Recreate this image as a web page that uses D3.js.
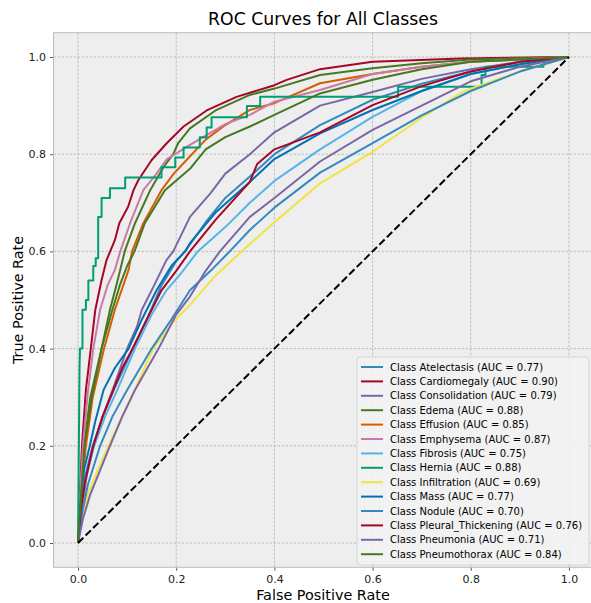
<!DOCTYPE html>
<html><head><meta charset="utf-8">
<script src="https://cdn.jsdelivr.net/npm/d3@7"></script>
<style>body{margin:0;background:#fff}svg{display:block}</style>
</head><body><svg id="c" width="591" height="603"></svg>
<script>
const classNames = ["Atelectasis","Cardiomegaly","Consolidation","Edema","Effusion","Emphysema","Fibrosis","Hernia","Infiltration","Mass","Nodule","Pleural_Thickening","Pneumonia","Pneumothorax"];
const aucValues = [0.77,0.90,0.79,0.88,0.85,0.87,0.75,0.88,0.69,0.77,0.70,0.76,0.71,0.84];
const lineColors = ["#348ABD","#A60628","#7A68A6","#467821","#D55E00","#CC79A7","#56B4E9","#009E73","#F0E442","#0072B2","#348ABD","#A60628","#7A68A6","#467821"];
const xTicks = [0.0,0.2,0.4,0.6,0.8,1.0];
const yTicks = [0.0,0.2,0.4,0.6,0.8,1.0];

// ROC points [fpr, tpr]
const rocAtelectasis = [[0,0],[0.006,0.07],[0.015,0.14],[0.03,0.2],[0.05,0.26],[0.075,0.32],[0.112,0.4],[0.14,0.46],[0.17,0.53],[0.2,0.58],[0.218,0.6],[0.26,0.66],[0.3,0.71],[0.35,0.754],[0.4,0.8],[0.493,0.86],[0.6,0.912],[0.7,0.945],[0.8,0.97],[0.9,0.99],[1,1]];
const rocCardiomegaly = [[0,0],[0.003,0.08],[0.008,0.2],[0.016,0.315],[0.026,0.4],[0.035,0.479],[0.048,0.541],[0.058,0.582],[0.075,0.623],[0.084,0.658],[0.102,0.692],[0.113,0.726],[0.123,0.747],[0.15,0.788],[0.181,0.823],[0.215,0.857],[0.262,0.89],[0.323,0.918],[0.4,0.942],[0.425,0.953],[0.493,0.975],[0.6,0.99],[0.78,0.997],[1,1]];
const rocConsolidation = [[0,0],[0.008,0.07],[0.018,0.14],[0.032,0.2],[0.05,0.26],[0.072,0.32],[0.1,0.4],[0.12,0.445],[0.13,0.48],[0.155,0.53],[0.18,0.582],[0.194,0.6],[0.228,0.671],[0.27,0.72],[0.3,0.76],[0.35,0.8],[0.4,0.845],[0.493,0.9],[0.6,0.928],[0.7,0.955],[0.8,0.975],[0.9,0.99],[1,1]];
const rocEdema = [[0,0],[0.004,0.08],[0.012,0.2],[0.025,0.3],[0.048,0.4],[0.065,0.48],[0.078,0.53],[0.086,0.562],[0.095,0.6],[0.116,0.658],[0.147,0.726],[0.175,0.775],[0.194,0.8],[0.204,0.823],[0.228,0.853],[0.28,0.89],[0.35,0.922],[0.4,0.935],[0.493,0.963],[0.6,0.977],[0.7,0.987],[0.8,0.995],[1,1]];
const rocEffusion = [[0,0],[0.005,0.08],[0.016,0.2],[0.03,0.3],[0.053,0.4],[0.075,0.48],[0.092,0.53],[0.103,0.562],[0.11,0.6],[0.133,0.658],[0.17,0.726],[0.195,0.76],[0.221,0.788],[0.26,0.83],[0.3,0.86],[0.35,0.891],[0.4,0.905],[0.493,0.946],[0.6,0.965],[0.7,0.98],[0.8,0.99],[1,1]];
const rocEmphysema = [[0,0],[0.003,0.08],[0.01,0.2],[0.02,0.31],[0.031,0.4],[0.045,0.48],[0.06,0.53],[0.075,0.562],[0.086,0.6],[0.106,0.658],[0.133,0.726],[0.16,0.76],[0.181,0.79],[0.228,0.819],[0.3,0.862],[0.35,0.881],[0.4,0.908],[0.493,0.932],[0.6,0.965],[0.7,0.98],[0.8,0.99],[1,1]];
const rocFibrosis = [[0,0],[0.007,0.07],[0.017,0.14],[0.033,0.2],[0.055,0.26],[0.08,0.315],[0.116,0.4],[0.15,0.47],[0.18,0.52],[0.21,0.555],[0.228,0.579],[0.244,0.6],[0.3,0.65],[0.35,0.7],[0.4,0.745],[0.493,0.81],[0.6,0.877],[0.7,0.93],[0.8,0.965],[0.9,0.985],[1,1]];
const rocHernia = [[0,0],[0.003,0.36],[0.004,0.4],[0.009,0.4],[0.009,0.48],[0.016,0.48],[0.016,0.5],[0.021,0.5],[0.021,0.54],[0.031,0.54],[0.031,0.57],[0.036,0.57],[0.036,0.586],[0.041,0.586],[0.041,0.671],[0.048,0.671],[0.048,0.71],[0.065,0.71],[0.065,0.73],[0.096,0.73],[0.096,0.752],[0.17,0.752],[0.17,0.773],[0.198,0.773],[0.198,0.793],[0.215,0.793],[0.215,0.814],[0.248,0.814],[0.248,0.835],[0.262,0.835],[0.262,0.855],[0.272,0.855],[0.272,0.876],[0.344,0.876],[0.344,0.899],[0.371,0.899],[0.371,0.918],[0.652,0.918],[0.652,0.939],[0.822,0.939],[0.822,0.963],[0.83,0.963],[0.83,0.98],[0.948,0.98],[0.948,0.987],[1,1]];
const rocInfiltration = [[0,0],[0.008,0.05],[0.02,0.1],[0.04,0.15],[0.062,0.2],[0.085,0.25],[0.109,0.3],[0.153,0.4],[0.19,0.45],[0.228,0.49],[0.28,0.55],[0.333,0.6],[0.4,0.66],[0.493,0.74],[0.6,0.805],[0.7,0.875],[0.778,0.925],[0.8,0.935],[0.9,0.97],[1,1]];
const rocMass = [[0,0],[0.005,0.08],[0.012,0.15],[0.024,0.2],[0.035,0.25],[0.052,0.315],[0.075,0.36],[0.103,0.4],[0.13,0.46],[0.16,0.52],[0.19,0.57],[0.218,0.6],[0.228,0.617],[0.28,0.68],[0.35,0.743],[0.4,0.79],[0.493,0.843],[0.6,0.891],[0.7,0.93],[0.8,0.965],[0.9,0.985],[1,1]];
const rocNodule = [[0,0],[0.008,0.06],[0.02,0.12],[0.045,0.2],[0.07,0.26],[0.1,0.315],[0.15,0.4],[0.19,0.46],[0.228,0.52],[0.27,0.56],[0.309,0.6],[0.35,0.644],[0.4,0.69],[0.493,0.762],[0.6,0.823],[0.7,0.88],[0.8,0.93],[0.9,0.97],[1,1]];
const rocPleural = [[0,0],[0.006,0.07],[0.015,0.13],[0.031,0.2],[0.05,0.26],[0.072,0.315],[0.09,0.36],[0.111,0.4],[0.14,0.46],[0.17,0.52],[0.2,0.56],[0.228,0.6],[0.28,0.665],[0.35,0.743],[0.365,0.78],[0.4,0.81],[0.493,0.845],[0.6,0.901],[0.7,0.94],[0.8,0.97],[0.9,0.99],[1,1]];
const rocPneumonia = [[0,0],[0.01,0.05],[0.025,0.1],[0.045,0.15],[0.065,0.2],[0.09,0.26],[0.116,0.315],[0.164,0.4],[0.2,0.47],[0.228,0.507],[0.26,0.56],[0.289,0.6],[0.35,0.671],[0.4,0.71],[0.493,0.785],[0.6,0.85],[0.7,0.9],[0.8,0.95],[0.9,0.98],[1,1]];
const rocPneumothorax = [[0,0],[0.005,0.08],[0.013,0.2],[0.028,0.3],[0.048,0.4],[0.07,0.48],[0.085,0.53],[0.1,0.57],[0.115,0.6],[0.136,0.658],[0.177,0.726],[0.228,0.77],[0.26,0.81],[0.3,0.835],[0.35,0.857],[0.4,0.881],[0.493,0.925],[0.6,0.953],[0.7,0.975],[0.8,0.99],[1,1]];

const rocSeries = [rocAtelectasis,rocCardiomegaly,rocConsolidation,rocEdema,rocEffusion,rocEmphysema,rocFibrosis,rocHernia,rocInfiltration,rocMass,rocNodule,rocPleural,rocPneumonia,rocPneumothorax];

const svg = d3.select("#c");
const W = 591, H = 603;
const x = d3.scaleLinear().domain([-0.05,1.05]).range([53.5,593.5]);
const y = d3.scaleLinear().domain([-0.05,1.05]).range([567.3,32.7]);
const font = "DejaVu Sans, sans-serif";

svg.append("rect").attr("width",W).attr("height",H).attr("fill","#ffffff");
svg.append("rect").attr("x",x(-0.05)).attr("y",y(1.05)).attr("width",x(1.05)-x(-0.05)).attr("height",y(-0.05)-y(1.05)).attr("fill","#eeeeee");

svg.append("defs").append("clipPath").attr("id","clip").append("rect")
  .attr("x",x(-0.05)).attr("y",y(1.05)).attr("width",x(1.05)-x(-0.05)).attr("height",y(-0.05)-y(1.05));

// grid
const grid = svg.append("g");
xTicks.forEach(t=>grid.append("line").attr("x1",x(t)).attr("x2",x(t)).attr("y1",y(-0.05)).attr("y2",y(1.05))
  .attr("stroke","#b2b2b2").attr("stroke-width",0.8).attr("stroke-dasharray","2.5,1.5"));
yTicks.forEach(t=>grid.append("line").attr("y1",y(t)).attr("y2",y(t)).attr("x1",x(-0.05)).attr("x2",x(1.05))
  .attr("stroke","#b2b2b2").attr("stroke-width",0.8).attr("stroke-dasharray","2.5,1.5"));

// axes
const xAxis = d3.axisBottom(x).tickValues(xTicks).tickFormat(d3.format(".1f")).tickSize(3.5).tickPadding(4);
const yAxis = d3.axisLeft(y).tickValues(yTicks).tickFormat(d3.format(".1f")).tickSize(3.5).tickPadding(4);
const gx = svg.append("g").attr("transform",`translate(0,${y(-0.05)})`).call(xAxis);
const gy = svg.append("g").attr("transform",`translate(${x(-0.05)},0)`).call(yAxis);
[gx,gy].forEach(g=>{
  g.select(".domain").remove();
  g.selectAll(".tick line").attr("stroke","#333333").attr("stroke-width",0.8);
  g.selectAll(".tick text").attr("fill","#222222").attr("font-family",font).attr("font-size","11px");
});

// curves
const line = d3.line().x(d=>x(d[0])).y(d=>y(d[1]));
const curves = svg.append("g").attr("clip-path","url(#clip)");
rocSeries.forEach((s,i)=>{
  curves.append("path").datum(s).attr("d",line).attr("fill","none")
    .attr("stroke",lineColors[i]).attr("stroke-width",2).attr("stroke-linejoin","round");
});
curves.append("path").datum([[0,0],[1,1]]).attr("d",line).attr("fill","none")
  .attr("stroke","#000000").attr("stroke-width",2).attr("stroke-dasharray","7.4,3.2");

// frame
svg.append("rect").attr("x",x(-0.05)).attr("y",y(1.05)).attr("width",x(1.05)-x(-0.05)).attr("height",y(-0.05)-y(1.05))
  .attr("fill","none").attr("stroke","#bcbcbc").attr("stroke-width",1);

// title & labels
svg.append("text").attr("x",323).attr("y",25).attr("text-anchor","middle").attr("font-family",font)
  .attr("font-size","17.3px").attr("fill","#000").text("ROC Curves for All Classes");
svg.append("text").attr("x",323).attr("y",600).attr("text-anchor","middle").attr("font-family",font)
  .attr("font-size","14.4px").attr("fill","#000").text("False Positive Rate");
svg.append("text").attr("transform","translate(23,300) rotate(-90)").attr("text-anchor","middle").attr("font-family",font)
  .attr("font-size","14.4px").attr("fill","#000").text("True Positive Rate");

// legend
const lg = svg.append("g");
const lx = 357, ly = 357, lw = 232, lh = 208, rowH = 14.4;
lg.append("rect").attr("x",lx).attr("y",ly).attr("width",lw).attr("height",lh).attr("rx",3)
  .attr("fill","#f2f2f2").attr("fill-opacity",0.9).attr("stroke","#cccccc").attr("stroke-width",0.8);
classNames.forEach((c,i)=>{
  const yy = ly + 10 + i*rowH;
  lg.append("line").attr("x1",lx+4).attr("x2",lx+26).attr("y1",yy).attr("y2",yy)
    .attr("stroke",lineColors[i]).attr("stroke-width",2);
  lg.append("text").attr("x",lx+33).attr("y",yy).attr("dy","0.35em").attr("font-family",font)
    .attr("font-size","10px").attr("fill","#000").text(`Class ${c} (AUC = ${aucValues[i].toFixed(2)})`);
});
</script></body></html>
